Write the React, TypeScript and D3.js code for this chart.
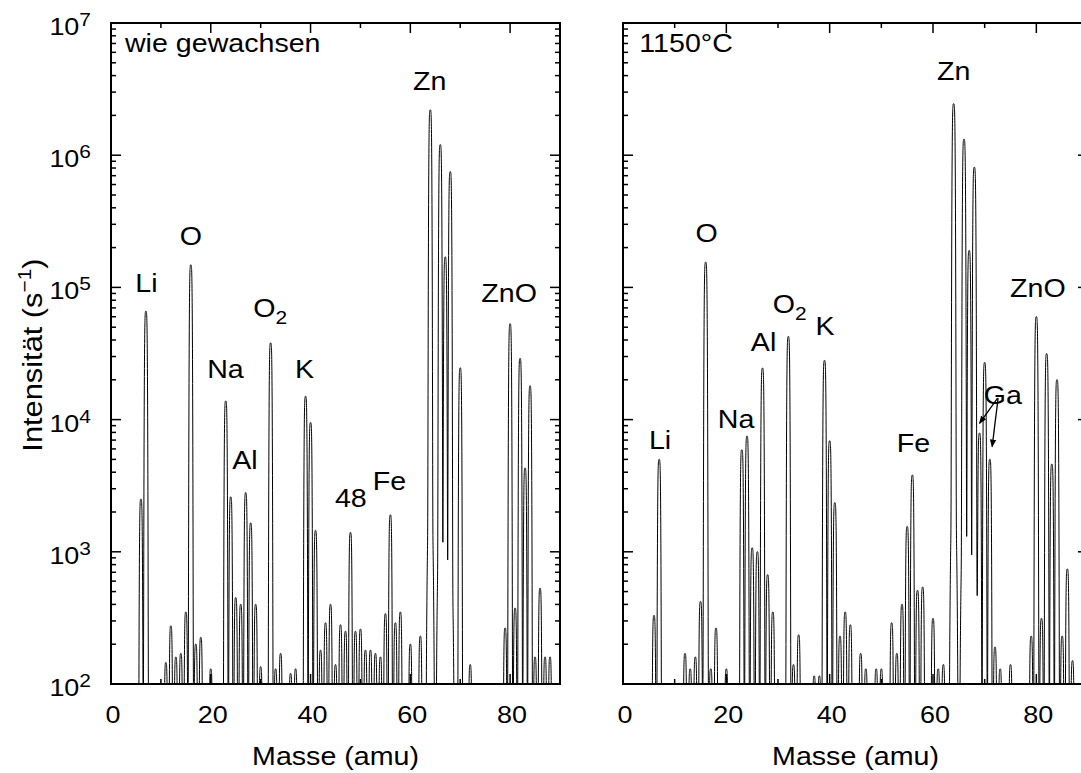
import React from 'react';
import * as d3 from 'd3';

// ---- data: peak positions (amu) and peak intensities (counts/s) ----
const massesGrown = [6, 7, 11, 12, 13, 14, 15, 16, 17, 18, 20, 23, 24, 25, 26, 27, 28, 29, 30, 32, 33, 34, 36, 37, 39, 40, 41, 42, 43, 44, 45, 46, 47, 48, 49, 50, 51, 52, 53, 54, 55, 56, 57, 58, 60, 62, 64, 66, 67, 68, 70, 72, 79, 80, 81, 82, 83, 84, 85, 86, 87, 88];
const intensGrown = [2500, 66000, 145, 275, 160, 170, 350, 148000, 200, 225, 130, 13800, 2600, 450, 400, 2800, 1650, 400, 135, 38000, 130, 170, 120, 130, 15000, 9500, 1450, 180, 290, 400, 140, 280, 250, 1400, 250, 260, 180, 180, 170, 160, 340, 1900, 290, 350, 200, 230, 2200000, 1200000, 170000, 750000, 24600, 140, 265, 53000, 375, 29000, 4300, 18000, 160, 530, 160, 160];

const massesAnnealed = [6, 7, 12, 13, 14, 15, 16, 17, 18, 20, 23, 24, 25, 26, 27, 28, 29, 32, 33, 34, 37, 38, 39, 40, 41, 42, 43, 44, 46, 47, 49, 50, 52, 53, 54, 55, 56, 57, 58, 60, 61, 62, 64, 66, 67, 68, 69, 70, 71, 72, 73, 75, 79, 80, 81, 82, 83, 84, 85, 86, 87];
const intensAnnealed = [330, 5000, 170, 130, 160, 420, 155000, 130, 265, 130, 5900, 7500, 1070, 1000, 24500, 670, 350, 42500, 140, 235, 115, 115, 28000, 6900, 2350, 230, 350, 280, 170, 130, 130, 130, 290, 170, 400, 1550, 3800, 510, 540, 313, 130, 140, 2450000, 1320000, 190000, 810000, 7900, 27000, 5000, 190, 130, 140, 230, 60000, 313, 31500, 4600, 20000, 230, 740, 150];

const yExponents = [2, 3, 4, 5, 6, 7];
const xTickValues = [0, 20, 40, 60, 80];
const xMinorValues = [10, 30, 50, 70];

// annotation labels: [text, mass, log10(intensity), anchor]
const labelsGrown: [string, number, number, string][] = [
  ['wie gewachsen', 2.8, 6.78, 'start'],
  ['Zn', 63.9, 6.49, 'middle'],
  ['O', 16.0, 5.32, 'middle'],
  ['Li', 7.1, 4.963, 'middle'],
  ['O2', 28.5, 4.778, 'start'],
  ['Na', 22.95, 4.317, 'middle'],
  ['K', 38.8, 4.312, 'middle'],
  ['Al', 26.86, 3.626, 'middle'],
  ['Fe', 55.8, 3.467, 'middle'],
  ['48', 48.07, 3.337, 'middle'],
  ['ZnO', 79.8, 4.893, 'middle'],
];
const labelsAnnealed: [string, number, number, string][] = [
  ['1150°C', 3.16, 6.783, 'start'],
  ['Zn', 64.0, 6.569, 'middle'],
  ['O', 16.2, 5.341, 'middle'],
  ['ZnO', 80.3, 4.93, 'middle'],
  ['O2', 29.0, 4.81, 'start'],
  ['K', 39.1, 4.64, 'middle'],
  ['Al', 27.2, 4.52, 'middle'],
  ['Na', 21.9, 3.934, 'middle'],
  ['Li', 7.17, 3.778, 'middle'],
  ['Fe', 56.2, 3.757, 'middle'],
  ['Ga', 69.8, 4.12, 'start'],
];
// Ga arrows: from (mass, log I) to (mass, log I)
const gaArrows: [number, number, number, number][] = [
  [72.5, 4.163, 69.0, 3.972],
  [72.6, 4.163, 71.45, 3.795],
];

const W = 1081;
const H = 773;
const Y_TOP = 23;
const Y_BOT = 684;
const FONT = 'Liberation Sans, Arial, Helvetica, sans-serif';
const SX = 1.1;

const yScale = d3.scaleLog().domain([1e2, 1e7]).range([Y_BOT, Y_TOP]);

function spectrum(masses: number[], intens: number[]) {
  const pts: [number, number][] = [];
  for (let i = 0; i <= 9000; i++) {
    const x = i * 0.01;
    let s = 0;
    for (let k = 0; k < masses.length; k++) {
      const d = x - masses[k];
      if (Math.abs(d) > 3) continue;
      const u = d / 0.3;
      const v = d / 0.6;
      s += intens[k] * (Math.exp(-u * u * u * u) + 1e-3 * Math.exp(-v * v * v * v));
    }
    pts.push([x, Math.max(100, Math.min(1e7, s))]);
  }
  return pts;
}

function Txt({ x, y, size, anchor, children }: any) {
  return (
    <g transform={`translate(${x},${y}) scale(${SX},1)`}>
      <text x={0} y={0} fontSize={size} textAnchor={anchor} fontFamily={FONT} fill="#000">
        {children}
      </text>
    </g>
  );
}

function Panel({ x0, x1, masses, intens, labels, showYLabels, arrows, id }: any) {
  const xScale = d3.scaleLinear().domain([0, 90]).range([x0, x1]);
  const pts = spectrum(masses, intens);
  const line = d3.line<[number, number]>().x(d => xScale(d[0])).y(d => yScale(d[1]));
  const minorY: number[] = [];
  for (let e = 2; e < 7; e++) for (let m = 2; m <= 9; m++) minorY.push(m * Math.pow(10, e));
  const ticks: any[] = [];
  yExponents.forEach(e => {
    const y = yScale(Math.pow(10, e));
    ticks.push(<line key={'yl' + e} x1={x0} x2={x0 + 10} y1={y} y2={y} />);
    ticks.push(<line key={'yr' + e} x1={x1} x2={x1 - 10} y1={y} y2={y} />);
  });
  minorY.forEach((v, i) => {
    const y = yScale(v);
    ticks.push(<line key={'ml' + i} x1={x0} x2={x0 + 5} y1={y} y2={y} />);
    ticks.push(<line key={'mr' + i} x1={x1} x2={x1 - 5} y1={y} y2={y} />);
  });
  xTickValues.forEach(v => {
    const x = xScale(v);
    ticks.push(<line key={'xt' + v} x1={x} x2={x} y1={Y_TOP} y2={Y_TOP + 10} />);
    ticks.push(<line key={'xb' + v} x1={x} x2={x} y1={Y_BOT} y2={Y_BOT - 10} />);
  });
  xMinorValues.forEach(v => {
    const x = xScale(v);
    ticks.push(<line key={'xmt' + v} x1={x} x2={x} y1={Y_TOP} y2={Y_TOP + 5} />);
    ticks.push(<line key={'xmb' + v} x1={x} x2={x} y1={Y_BOT} y2={Y_BOT - 5} />);
  });
  return (
    <g>
      <defs>
        <clipPath id={id}>
          <rect x={x0} y={Y_TOP} width={x1 - x0} height={Y_BOT - Y_TOP} />
        </clipPath>
      </defs>
      <path d={line(pts) || ''} fill="none" stroke="#000" strokeWidth={1} clipPath={`url(#${id})`} />
      <g stroke="#000" strokeWidth={1.5}>{ticks}</g>
      <rect x={x0} y={Y_TOP} width={x1 - x0} height={Y_BOT - Y_TOP} fill="none" stroke="#000" strokeWidth={2} />
      {xTickValues.map(v => (
        <Txt key={'xl' + v} x={xScale(v) + 2} y={723} size={24.5} anchor="middle">{String(v)}</Txt>
      ))}
      {showYLabels && yExponents.map(e => (
        <Txt key={'ylab' + e} x={91} y={yScale(Math.pow(10, e)) + 12} size={24.5} anchor="end">
          10<tspan dy={-9} fontSize={19}>{String(e)}</tspan>
        </Txt>
      ))}
      <Txt x={(x0 + x1) / 2} y={765} size={26} anchor="middle">Masse (amu)</Txt>
      {labels.map((l: any, i: number) => {
        const [t, m, lg, anchor] = l;
        const x = xScale(m);
        const y = yScale(Math.pow(10, lg));
        if (t === 'O2') {
          return (
            <Txt key={'lab' + i} x={x} y={y} size={26} anchor={anchor}>
              O<tspan dy={7} fontSize={19}>2</tspan>
            </Txt>
          );
        }
        return <Txt key={'lab' + i} x={x} y={y} size={26} anchor={anchor}>{t}</Txt>;
      })}
      {arrows && arrows.map((a: any, i: number) => (
        <line key={'arr' + i} x1={xScale(a[0])} y1={yScale(Math.pow(10, a[1]))} x2={xScale(a[2])} y2={yScale(Math.pow(10, a[3]))}
          stroke="#000" strokeWidth={1.3} markerEnd="url(#arrowHead)" />
      ))}
    </g>
  );
}

export default function App() {
  return (
    <svg width={W} height={H} style={{ position: 'absolute', left: 0, top: 0, background: '#fff' }}>
      <defs>
        <marker id="arrowHead" viewBox="0 0 10 10" refX={9} refY={5} markerWidth={8} markerHeight={8} orient="auto" markerUnits="userSpaceOnUse">
          <path d="M0,1 L10,5 L0,9 Z" fill="#000" />
        </marker>
      </defs>
      <rect x={0} y={0} width={W} height={H} fill="#fff" />
      <Panel id="clipA" x0={111} x1={560} masses={massesGrown} intens={intensGrown} labels={labelsGrown} showYLabels={true} />
      <Panel id="clipB" x0={623} x1={1088} masses={massesAnnealed} intens={intensAnnealed} labels={labelsAnnealed} showYLabels={false} arrows={gaArrows} />
      <g transform={`translate(42,355) rotate(-90) scale(${SX},1)`}>
        <text x={0} y={0} fontSize={28} textAnchor="middle" fontFamily={FONT}>
          Intensität (s<tspan dy={-11} fontSize={19}>−1</tspan><tspan dy={11}>)</tspan>
        </text>
      </g>
    </svg>
  );
}
